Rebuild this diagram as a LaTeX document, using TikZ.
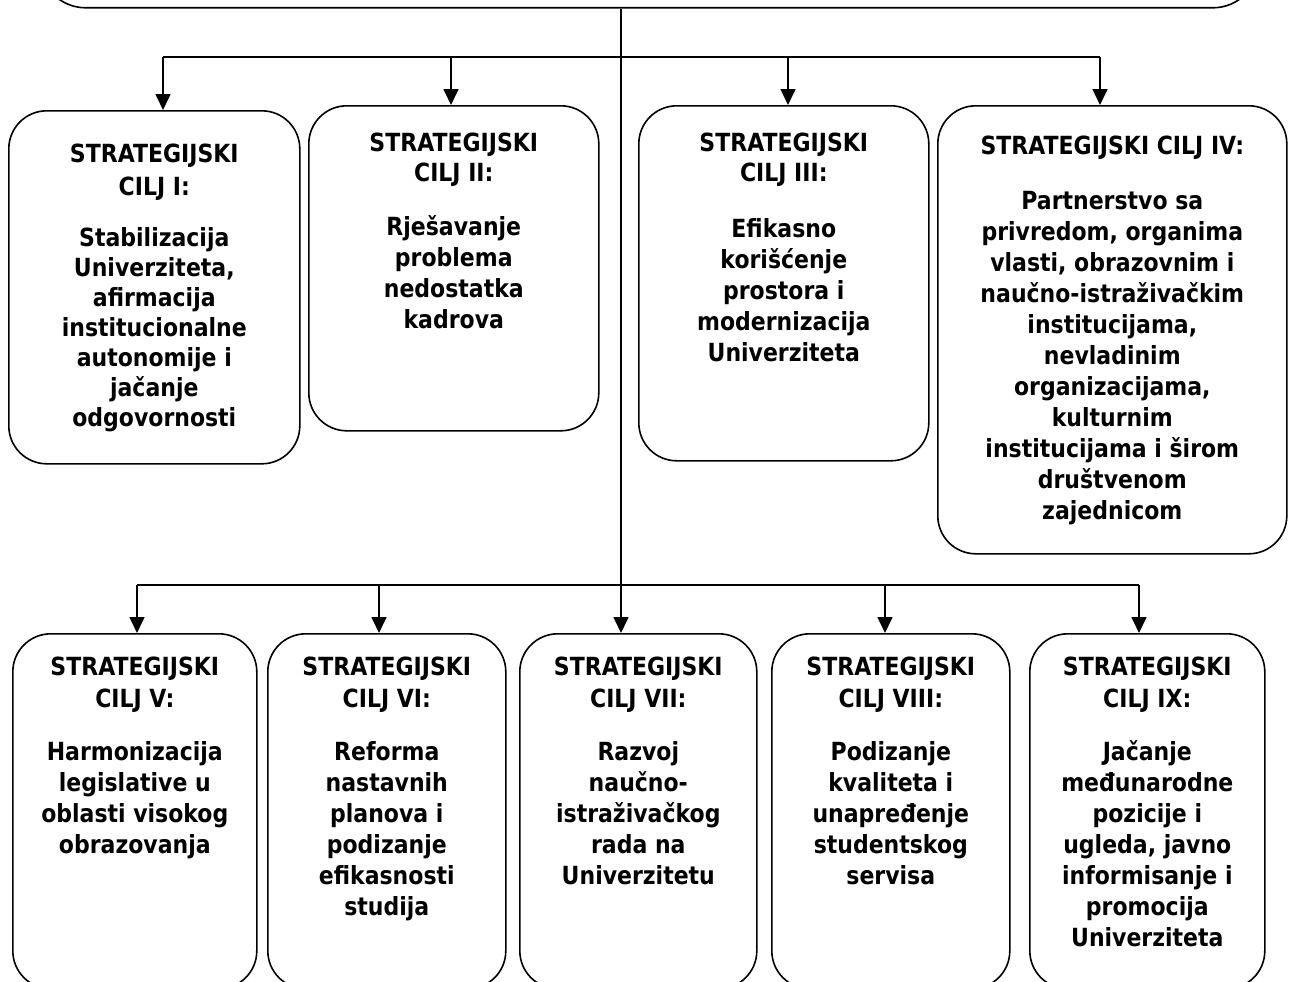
\documentclass[tikz,border=0pt]{standalone}
\usepackage{fontspec}
\setmainfont{DejaVu Sans}[FakeStretch=0.88]
\usetikzlibrary{arrows.meta}
\tikzset{
  goal/.style={draw, line width=1.6pt, rounded corners=38pt, anchor=north west, inner sep=0pt},
  txt/.style={anchor=north, align=center, inner sep=0pt, font=\bfseries\fontsize{25}{31}\selectfont},
  conn/.style={line width=1.6pt},
  arr/.style={line width=1.6pt, -{Triangle[length=16pt,width=15pt]}},
}
\begin{document}
\begin{tikzpicture}[x=1pt,y=-1pt]
\useasboundingbox (0,0) rectangle (1290,982);
\clip (0,0) rectangle (1290,982);
\fill[white] (0,0) rectangle (1290,982);
% boxes
\node[goal, rounded corners=46pt, minimum width=1219pt, minimum height=157pt] (top) at (39,-150) {};
\node[goal, minimum width=291pt, minimum height=353pt] (b1) at (8,110) {};
\node[goal, minimum width=290pt, minimum height=325pt] (b2) at (308,105) {};
\node[goal, minimum width=290pt, minimum height=355pt] (b3) at (638,105) {};
\node[goal, minimum width=349pt, minimum height=448pt] (b4) at (937,105) {};
\node[goal, minimum width=244pt, minimum height=355pt] (b5) at (12,633) {};
\node[goal, minimum width=238pt, minimum height=355pt] (b6) at (267,633) {};
\node[goal, minimum width=237pt, minimum height=355pt] (b7) at (519,633) {};
\node[goal, minimum width=238pt, minimum height=355pt] (b8) at (771,633) {};
\node[goal, minimum width=235pt, minimum height=355pt] (b9) at (1029,633) {};
% texts
\node[txt] (t1) at ([yshift=-34pt]b1.north) {STRATEGIJSKI\\[2pt]CILJ I:\\[20pt]Stabilizacija\\[-1pt]Univerziteta,\\[-1pt]afirmacija\\[-1pt]institucionalne\\[-1pt]autonomije i\\[-1pt]jačanje\\[-1pt]odgovornosti};
\node[txt] (t2) at ([yshift=-28pt]b2.north) {STRATEGIJSKI\\[-1pt]CILJ II:\\[23pt]Rješavanje\\problema\\nedostatka\\kadrova};
\node[txt] (t3) at ([yshift=-28pt]b3.north) {STRATEGIJSKI\\[-1pt]CILJ III:\\[25pt]Efikasno\\korišćenje\\prostora i\\modernizacija\\Univerziteta};
\node[txt] (t4) at ([yshift=-31pt]b4.north) {STRATEGIJSKI CILJ IV:\\[24pt]Partnerstvo sa\\privredom, organima\\vlasti, obrazovnim i\\naučno-istraživačkim\\institucijama,\\nevladinim\\organizacijama,\\kulturnim\\institucijama i širom\\društvenom\\zajednicom};
\node[txt] (t5) at ([yshift=-24pt]b5.north) {STRATEGIJSKI\\[1pt]CILJ V:\\[22pt]Harmonizacija\\legislative u\\oblasti visokog\\obrazovanja};
\node[txt] (t6) at ([yshift=-24pt]b6.north) {STRATEGIJSKI\\[1pt]CILJ VI:\\[22pt]Reforma\\nastavnih\\planova i\\podizanje\\efikasnosti\\studija};
\node[txt] (t7) at ([yshift=-24pt]b7.north) {STRATEGIJSKI\\[1pt]CILJ VII:\\[22pt]Razvoj\\naučno-\\istraživačkog\\rada na\\Univerzitetu};
\node[txt] (t8) at ([yshift=-24pt]b8.north) {STRATEGIJSKI\\[1pt]CILJ VIII:\\[22pt]Podizanje\\kvaliteta i\\unapređenje\\studentskog\\servisa};
\node[txt] (t9) at ([yshift=-24pt]b9.north) {STRATEGIJSKI\\[1pt]CILJ IX:\\[22pt]Jačanje\\međunarodne\\pozicije i\\ugleda, javno\\informisanje i\\promocija\\Univerziteta};
% connectors
\coordinate (hub) at (621,57);
\coordinate (a1) at (163,57);
\coordinate (a2) at (451,57);
\coordinate (a3) at (788,57);
\coordinate (a4) at (1100,57);
\coordinate (c5) at (137,585);
\coordinate (c6) at (379,585);
\coordinate (c8) at (885,585);
\coordinate (c9) at (1139,585);
\draw[arr] (hub |- top.south) -- (hub |- b7.north);
\draw[conn] (a1) -- (a4);
\draw[conn] (c5) -- (c9);
\draw[arr] (a1) -- (a1 |- b1.north);
\draw[arr] (a2) -- (a2 |- b2.north);
\draw[arr] (a3) -- (a3 |- b3.north);
\draw[arr] (a4) -- (a4 |- b4.north);
\draw[arr] (c5) -- (c5 |- b5.north);
\draw[arr] (c6) -- (c6 |- b6.north);
\draw[arr] (c8) -- (c8 |- b8.north);
\draw[arr] (c9) -- (c9 |- b9.north);
\end{tikzpicture}
\end{document}
